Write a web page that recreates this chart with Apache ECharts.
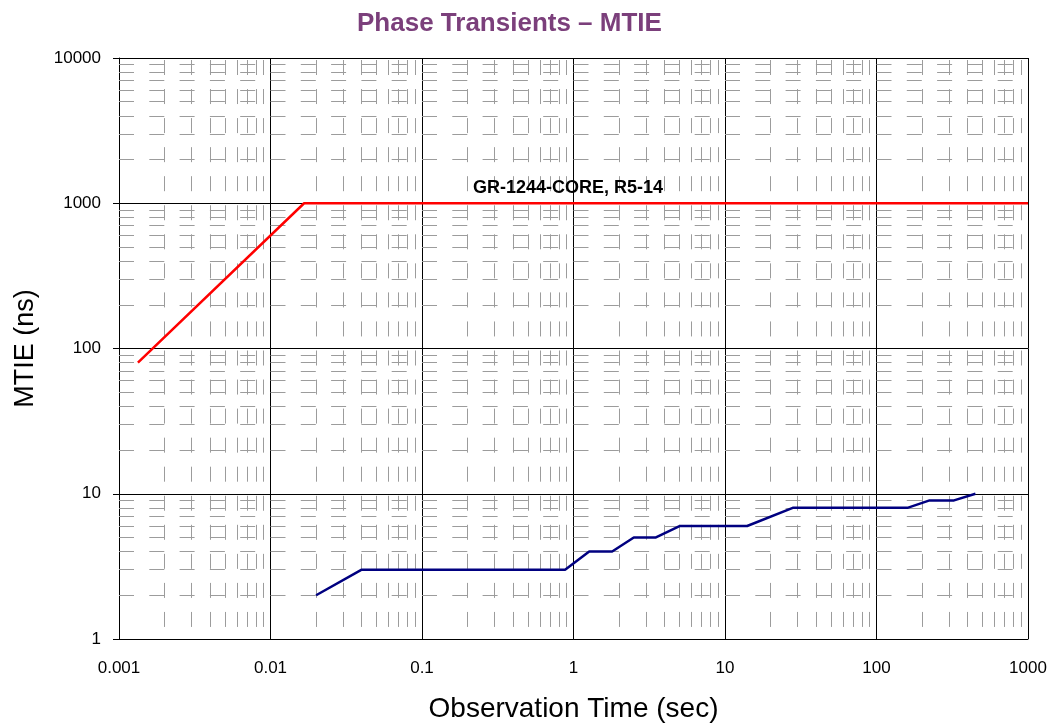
<!DOCTYPE html>
<html>
<head>
<meta charset="utf-8">
<script src="https://cdn.jsdelivr.net/npm/echarts@6/dist/echarts.min.js"></script>
<style>
  html, body { margin: 0; padding: 0; background: #fff; }
  #chart { width: 1052px; height: 723px; }
</style>
</head>
<body>
<div id="chart"></div>
<script>
// mask line, GR-1244-CORE R5-14
const limitTau = [0.001333, 0.016667, 1000];
const limitMtie = [80, 1000, 1000];

// measured MTIE
const measTau = [0.02, 0.04, 0.88, 1.27, 1.8, 2.5, 3.5, 5.05, 14, 28, 160, 224, 325, 450];
const measMtie = [2, 3, 3, 4, 4, 5, 5, 6, 6, 8, 8, 9, 9, 10];

const xTickLabels = ['0.001', '0.01', '0.1', '1', '10', '100', '1000'];
const yTickLabels = ['1', '10', '100', '1000', '10000'];
const xDecades = [0.001, 0.01, 0.1, 1, 10, 100];
const yDecades = [1, 10, 100, 1000];
const minorSteps = [2, 3, 4, 5, 6, 7, 8, 9];

const font = 'Liberation Sans, Arial, sans-serif';

function pairs(xs, ys) {
  return xs.map((x, i) => [x, ys[i]]);
}

let xMinor = [];
xDecades.forEach(d => minorSteps.forEach(k => xMinor.push({ xAxis: +(d * k).toPrecision(3) })));
let yMinor = [];
yDecades.forEach(d => minorSteps.forEach(k => yMinor.push({ yAxis: d * k })));

const chart = echarts.init(document.getElementById('chart'));

let options = {
  animation: false,
  title: {
    text: 'Phase Transients \u2013 MTIE',
    left: 352,
    top: 6,
    textStyle: { color: '#7b3f7b', fontSize: 26, fontWeight: 'bold', fontFamily: font }
  },
  grid: { left: 119, right: 24, top: 58, bottom: 84, outerBoundsMode: 'none', containLabel: false },
  xAxis: {
    type: 'log',
    logBase: 10,
    min: 0.001,
    max: 1000,
    name: 'Observation Time (sec)',
    nameLocation: 'middle',
    nameGap: 56,
    nameTextStyle: { color: '#000', fontSize: 28, fontFamily: font },
    axisLine: { lineStyle: { color: '#000', width: 1 } },
    axisTick: { show: false },
    axisLabel: {
      color: '#000', fontSize: 17, fontFamily: font, margin: 21,
      formatter: v => xTickLabels[Math.round(Math.log10(v)) + 3]
    },
    splitLine: { show: true, lineStyle: { color: '#000', width: 1 } }
  },
  yAxis: {
    type: 'log',
    logBase: 10,
    min: 1,
    max: 10000,
    name: 'MTIE (ns)',
    nameLocation: 'middle',
    nameGap: 80,
    nameTextStyle: { color: '#000', fontSize: 27, fontFamily: font },
    axisLine: { show: true, lineStyle: { color: '#000', width: 1 } },
    axisTick: { show: true, inside: false, length: 6, lineStyle: { color: '#000' } },
    axisLabel: {
      color: '#000', fontSize: 17, fontFamily: font, margin: 18,
      formatter: v => yTickLabels[Math.round(Math.log10(v))]
    },
    splitLine: { show: true, lineStyle: { color: '#000', width: 1 } }
  },
  series: [
    {
      // minor vertical grid
      type: 'line',
      data: [],
      silent: true,
      markLine: {
        silent: true,
        precision: 8,
        symbol: ['none', 'none'],
        label: { show: false },
        lineStyle: { color: '#9c9c9c', width: 1, type: [15, 14.05], dashOffset: 17 },
        data: xMinor
      }
    },
    {
      // minor horizontal grid
      type: 'line',
      data: [],
      silent: true,
      markLine: {
        silent: true,
        precision: 8,
        symbol: ['none', 'none'],
        label: { show: false },
        lineStyle: { color: '#9c9c9c', width: 1, type: [15, 15.3], dashOffset: 0 },
        data: yMinor
      }
    },
    {
      name: 'GR-1244-CORE, R5-14',
      type: 'line',
      data: pairs(limitTau, limitMtie),
      showSymbol: false,
      symbol: 'none',
      lineStyle: { color: '#ff0000', width: 2.5 },
      z: 5,
      markPoint: {
        symbol: 'circle',
        symbolSize: 0,
        data: [{ coord: [0.92, 1000] }],
        label: {
          show: true,
          position: 'top',
          distance: 6,
          formatter: 'GR-1244-CORE, R5-14',
          color: '#000',
          fontSize: 18,
          fontWeight: 'bold',
          fontFamily: font
        }
      }
    },
    {
      name: 'Measured',
      type: 'line',
      data: pairs(measTau, measMtie),
      showSymbol: false,
      symbol: 'none',
      lineStyle: { color: '#000080', width: 2.5 },
      z: 5
    }
  ]
};

chart.setOption(options);
</script>
</body>
</html>
